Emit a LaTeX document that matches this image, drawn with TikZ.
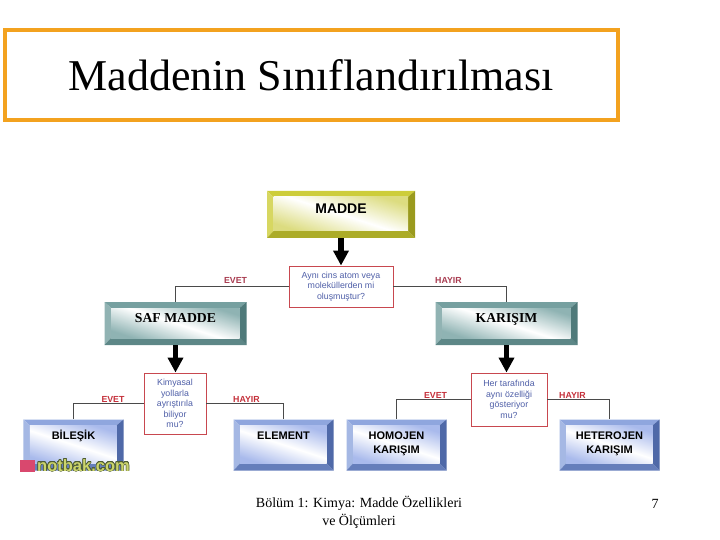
\documentclass[tikz,border=0pt]{standalone}
\usepackage{fontspec}
\usepackage[copies]{contour}
\setmainfont{Liberation Serif}
\setsansfont{Liberation Sans}
\usetikzlibrary{arrows.meta}
\contourlength{.5bp}
\definecolor{framecol}{HTML}{F3A21F}
\definecolor{asktext}{HTML}{4F5FA8}
\definecolor{askrim}{HTML}{C8484F}
\definecolor{answcol}{HTML}{A83C50}
\definecolor{answred}{HTML}{C4303A}
\definecolor{wirecol}{HTML}{4A4A4A}
\definecolor{logocol}{HTML}{CBD46C}
\definecolor{logorim}{HTML}{4E5C34}
\definecolor{logomarkcol}{HTML}{D9486E}
\definecolor{yellowhi}{HTML}{CDCD3A}
\definecolor{yellowlo}{HTML}{9A9A1E}
\definecolor{yellowin}{HTML}{DCDC80}
\definecolor{tealhi}{HTML}{76A0A0}
\definecolor{teallo}{HTML}{4F7A7A}
\definecolor{tealin}{HTML}{8FB3B3}
\definecolor{bluehi}{HTML}{8FA6DE}
\definecolor{bluelo}{HTML}{4F69A8}
\definecolor{bluein}{HTML}{A9BAEC}
\newcommand{\lifted}[2]{\raisebox{#1}[0pt][0pt]{\shortstack{#2}}}
\tikzset{
  bevelbox/.style n args={5}{minimum width=#1,minimum height=#2,inner sep=0pt,
    path picture={
      \coordinate (sw) at (path picture bounding box.south west);
      \coordinate (ne) at (path picture bounding box.north east);
      \coordinate (nw) at (sw |- ne);
      \coordinate (se) at (ne |- sw);
      \coordinate (isw) at ([shift={(6.5bp,7bp)}]sw);
      \coordinate (ine) at ([shift={(-7bp,-6bp)}]ne);
      \coordinate (inw) at (isw |- ine);
      \coordinate (ise) at (ine |- isw);
      \fill[#3] (nw) -- (ne) -- (ine) -- (inw) -- cycle;
      \fill[#3!80!white] (nw) -- (sw) -- (isw) -- (inw) -- cycle;
      \fill[#4!65!#3] (sw) -- (se) -- (ise) -- (isw) -- cycle;
      \fill[#4] (ne) -- (se) -- (ise) -- (ine) -- cycle;
      \shade[top color=#5,bottom color=#5,middle color=white,shading angle=-18]
        (isw) rectangle (ine);
    }},
  maddebox/.style={bevelbox={148bp}{47bp}{yellowhi}{yellowlo}{yellowin},
    font=\fontsize{14bp}{16bp}\sffamily\bfseries},
  kindbox/.style={bevelbox={142bp}{43bp}{tealhi}{teallo}{tealin},
    font=\fontsize{13.7bp}{16bp}\bfseries},
  leafbox/.style={bevelbox={100bp}{51bp}{bluehi}{bluelo}{bluein},
    font=\fontsize{11bp}{14bp}\sffamily\bfseries},
  askbox/.style={draw=askrim,fill=white,line width=.9bp,inner sep=0pt,align=center,
    text=asktext,font=\fontsize{8.8bp}{10.5bp}\sffamily},
  wire/.style={draw=wirecol,line width=1.2bp},
  fatarrow/.style={line width=5.5bp,-{Triangle[width=15bp,length=15bp]}},
  answer/.style={text=answcol,inner sep=0pt,font=\fontsize{8.8bp}{10bp}\sffamily\bfseries},
  answerlow/.style={answer,text=answred},
  foot/.style={inner sep=0pt,align=center,font=\fontsize{14bp}{18bp}\selectfont}
}
\begin{document}
\begin{tikzpicture}[x=1bp,y=-1bp]
  \useasboundingbox (0,0) rectangle (720,540);
  % title
  \node[draw=framecol,line width=4bp,minimum width=612bp,minimum height=90bp,inner sep=0pt] (frame) at (311.5,75) {};
  \node[inner sep=0pt,font=\fontsize{44bp}{48bp}\selectfont] (title) at (311,75.5) {Maddenin Sınıflandırılması};
  % boxes
  \node[maddebox] (madde) at (341,214.5) {\lifted{1bp}{MADDE}};
  \node[kindbox] (saf) at (175.5,323.5) {\lifted{1bp}{SAF MADDE}};
  \node[kindbox] (karisim) at (506.5,323.5) {\lifted{1bp}{KARIŞIM}};
  \node[leafbox] (bilesik) at (73.5,445) {\lifted{6bp}{BİLEŞİK}};
  \node[leafbox] (element) at (283.5,445) {\lifted{6bp}{ELEMENT}};
  \node[leafbox] (homojen) at (396.5,445) {\lifted{-8bp}{HOMOJEN\\[3bp]KARIŞIM}};
  \node[leafbox] (heterojen) at (609.5,445) {\lifted{-8bp}{HETEROJEN\\[3bp]KARIŞIM}};
  % questions
  \node[askbox,minimum width=104bp,minimum height=41bp] (ask1) at (341,286.5) {Aynı cins atom veya\\moleküllerden mi\\oluşmuştur?};
  \node[askbox,minimum width=62bp,minimum height=61bp] (ask2) at (175,403.5) {Kimyasal\\yollarla\\ayrıştırıla\\biliyor\\mu?};
  \node[askbox,minimum width=76bp,minimum height=53bp] (ask3) at (509,399.5) {Her tarafında\\aynı özelliği\\gösteriyor\\mu?};
  % connectors
  \draw[wire] (ask1.west) -| (saf.north);
  \draw[wire] (ask1.east) -| (karisim.north);
  \draw[wire] (ask2.west) -| (bilesik.north);
  \draw[wire] (ask2.east) -| (element.north);
  \draw[wire] (ask3.west) -| (homojen.north);
  \draw[wire] (ask3.east) -| (heterojen.north);
  \draw[fatarrow] (madde.south) -- (ask1.north);
  \draw[fatarrow] (saf.south) -- (saf.south |- ask2.north);
  \draw[fatarrow] (karisim.south) -- (karisim.south |- ask3.north);
  % answers
  \node[answer] (yes1) at (235.5,280.5) {EVET};
  \node[answer] (no1) at (448.5,280.5) {HAYIR};
  \node[answerlow] (yes2) at (113,399.5) {EVET};
  \node[answerlow] (no2) at (246.5,399.5) {HAYIR};
  \node[answerlow] (yes3) at (435.5,395.5) {EVET};
  \node[answerlow] (no3) at (572.5,395.5) {HAYIR};
  % logo
  \node[fill=logomarkcol,minimum width=15bp,minimum height=12bp,inner sep=0pt] (logomark) at (27.5,466) {};
  \node[anchor=west,inner sep=0pt,text=logocol,font=\fontsize{16.5bp}{18bp}\sffamily\bfseries] (logo) at (37,465.5) {\contour{logorim}{notbak.com}};
  % footer
  \node[foot] (source) at (359,512) {Bölüm 1: Kimya: Madde Özellikleri\\ve Ölçümleri};
  \node[foot] (page) at (655,503.5) {7};
\end{tikzpicture}
\end{document}
